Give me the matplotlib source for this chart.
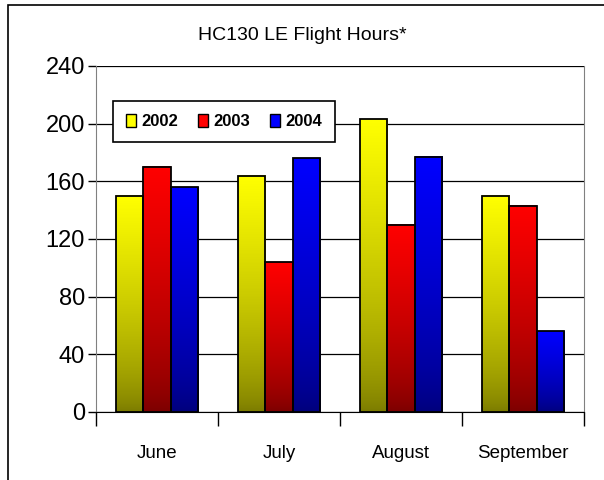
import numpy as np
import matplotlib
matplotlib.use("Agg")
import matplotlib.pyplot as plt
from matplotlib.colors import LinearSegmentedColormap
from matplotlib.patches import Patch, Rectangle

months = ["June", "July", "August", "September"]
years = ["2002", "2003", "2004"]
v2002 = [150, 164, 203, 150]
v2003 = [170, 104, 130, 143]
v2004 = [156, 176, 177, 56]
yticks = [0, 40, 80, 120, 160, 200, 240]

series = [v2002, v2003, v2004]
tops = ["#FFFF00", "#FF0000", "#0000FF"]
bottoms = ["#7A7A00", "#7A0000", "#00007A"]

plt.rcParams['font.family'] = ['Liberation Sans', 'DejaVu Sans']

fig = plt.figure(figsize=(6.04, 4.8), dpi=100)
# outer frame
fig.patches.append(Rectangle((8/604, -0.01), 1.0, 1 - 5/480 + 0.01, transform=fig.transFigure,
                             fill=False, edgecolor="black", linewidth=1.2))

ax = fig.add_axes([96/604, 1 - 412/480, 488/604, 346/480])

x = np.arange(len(months))
w = 0.222
grad = np.linspace(0, 1, 256).reshape(-1, 1) ** 0.7
for i, (vals, tc, bc) in enumerate(zip(series, tops, bottoms)):
    cmap = LinearSegmentedColormap.from_list("g%d" % i, [bc, tc])
    for j, v in enumerate(vals):
        x0 = x[j] + (i - 1.5) * w
        ax.imshow(grad, extent=[x0, x0 + w, 0, v], origin="lower", cmap=cmap,
                  aspect="auto", zorder=2, interpolation="bicubic")
    ax.bar(x + (i - 1) * w, vals, width=w, facecolor="none", edgecolor="black",
           linewidth=1.3, zorder=3)

ax.set_xlim(-0.5, len(months) - 0.5)
ax.set_ylim(0, 240)
ax.set_yticks(yticks)
ax.set_yticklabels([str(t) for t in yticks], fontsize=17)
ax.yaxis.grid(True, color="black", linewidth=0.9)
ax.set_axisbelow(True)

ax.set_xticks(x)
ax.set_xticklabels(months, fontsize=13.5)
ax.tick_params(axis="x", length=0, pad=24)
ax.set_xticks(np.arange(len(months) + 1) - 0.5, minor=True)
ax.tick_params(axis="x", which="minor", length=10, width=1, direction="out")
ax.tick_params(axis="y", length=6, width=1, direction="out", pad=2)

ax.spines["top"].set_visible(False)
ax.spines["right"].set_color("#808080")
ax.spines["left"].set_color("#808080")

fig.text(0.5, 1 - 35/480, "HC130 LE Flight Hours*", ha="center", va="center", fontsize=14)

handles = [Patch(facecolor=c, edgecolor="black") for c in tops]
leg = ax.legend(handles, years, loc="upper left", bbox_to_anchor=(0.035, 0.9), ncol=3,
                frameon=True, fancybox=False, edgecolor="black", framealpha=1,
                prop={"weight": "bold", "size": 12}, handlelength=0.6, handleheight=0.8,
                handletextpad=0.3, columnspacing=1.2, borderpad=0.8, borderaxespad=0)
leg.get_frame().set_linewidth(1.2)
leg.set_zorder(5)

fig.savefig("out.png", dpi=100)
